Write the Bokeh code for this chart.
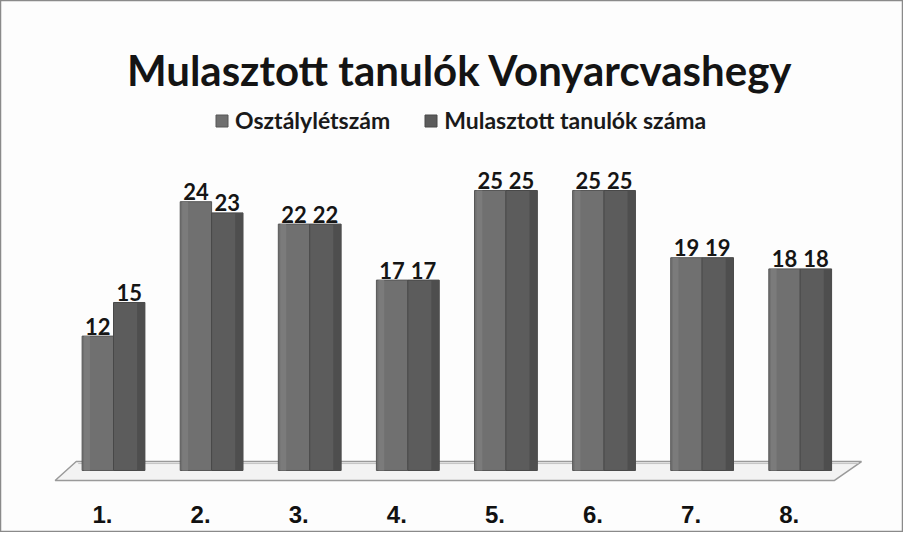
from bokeh.plotting import figure
from bokeh.models import Range1d, ColumnDataSource, Label, Legend, LegendItem
from bokeh.transform import dodge
from bokeh.core.properties import value
from bokeh.embed import file_html
from bokeh.resources import INLINE

# ---- data ----
title_text = "Mulasztott tanulók Vonyarcvashegy"
categories = ["1.", "2.", "3.", "4.", "5.", "6.", "7.", "8."]
series_names = ["Osztálylétszám", "Mulasztott tanulók száma"]
osztalyletszam = [12, 24, 22, 17, 25, 25, 19, 18]
mulasztott = [15, 23, 22, 17, 25, 25, 19, 18]

W, H = 903, 532
n = len(categories)
pos = list(range(n))

src = ColumnDataSource(dict(
    x=pos, cat=categories,
    a=osztalyletszam, b=mulasztott,
    a_lbl=[str(v) for v in osztalyletszam],
    b_lbl=[str(v) for v in mulasztott],
))

p = figure(width=W, height=H, output_backend="svg", toolbar_location=None,
           x_range=Range1d(-1.152, 8.053), y_range=Range1d(-5.536, 41.964),
           min_border=0, min_border_left=0, min_border_right=0,
           min_border_top=0, min_border_bottom=0)
p.axis.visible = False
p.grid.visible = False
p.background_fill_color = "#fdfdfd"
p.border_fill_color = "#fdfdfd"
p.outline_line_color = "#8a8a8a"
p.outline_line_width = 1.5

# floor platform
fl = -0.38
fr = n - 1 + 0.625
p.patch([fl, fr, fr - 0.275, fl - 0.215], [0.8, 0.8, -0.89, -0.89],
        fill_color="#f3f3f3", line_color="#9a9a9a", line_width=1.5)
p.line([fl + 0.02, fr - 0.03], [0.62, 0.62], line_color="#c4c4c4", line_width=1)

bw = 0.32
r1 = p.vbar(x=dodge("x", -0.16), top="a", width=bw, source=src,
            fill_color="#707070", line_color="#575757", line_width=1)
r2 = p.vbar(x=dodge("x", 0.16), top="b", width=bw, source=src,
            fill_color="#5c5c5c", line_color="#484848", line_width=1)
# 3D-ish side shading
p.vbar(x=dodge("x", 0.28), top="b", width=0.08, source=src,
       fill_color="#4e4e4e", line_color=None)
p.vbar(x=dodge("x", -0.27), top="a", width=0.06, source=src,
       fill_color="#7b7b7b", line_color=None)

lbl_font = value("Lato")
p.text(x=dodge("x", -0.16), y="a", text="a_lbl", source=src, text_align="center",
       text_baseline="alphabetic", y_offset=-10, text_font=lbl_font,
       text_font_style="bold", text_font_size="22px", text_color="#151515")
p.text(x=dodge("x", 0.16), y="b", text="b_lbl", source=src, text_align="center",
       text_baseline="alphabetic", y_offset=-10, text_font=lbl_font,
       text_font_style="bold", text_font_size="22px", text_color="#151515")

# category labels
p.text(x="x", y=-3.93, text="cat", source=src, text_align="center",
       text_baseline="middle", x_offset=-11, text_font=value("Liberation Sans"),
       text_font_style="bold", text_font_size="24px", text_color="#111111")

# title
p.add_layout(Label(x=459.5, y=H - 69, x_units="screen", y_units="screen",
                   text=title_text, text_align="center", text_baseline="alphabetic",
                   text_font="Lato", text_font_style="bold", text_font_size="42px",
                   text_color="#141414"))

legend = Legend(items=[LegendItem(label=series_names[0], renderers=[r1]),
                       LegendItem(label=series_names[1], renderers=[r2])],
                orientation="horizontal", location=(214, 398),
                padding=0, margin=0, spacing=33, glyph_width=15, glyph_height=15,
                label_standoff=6, label_text_font="Lato", label_text_font_style="bold",
                label_text_font_size="23px", label_text_color="#1a1a1a",
                border_line_alpha=0, background_fill_alpha=0)
p.add_layout(legend)

open("out.html", "w").write(file_html(p, INLINE))
